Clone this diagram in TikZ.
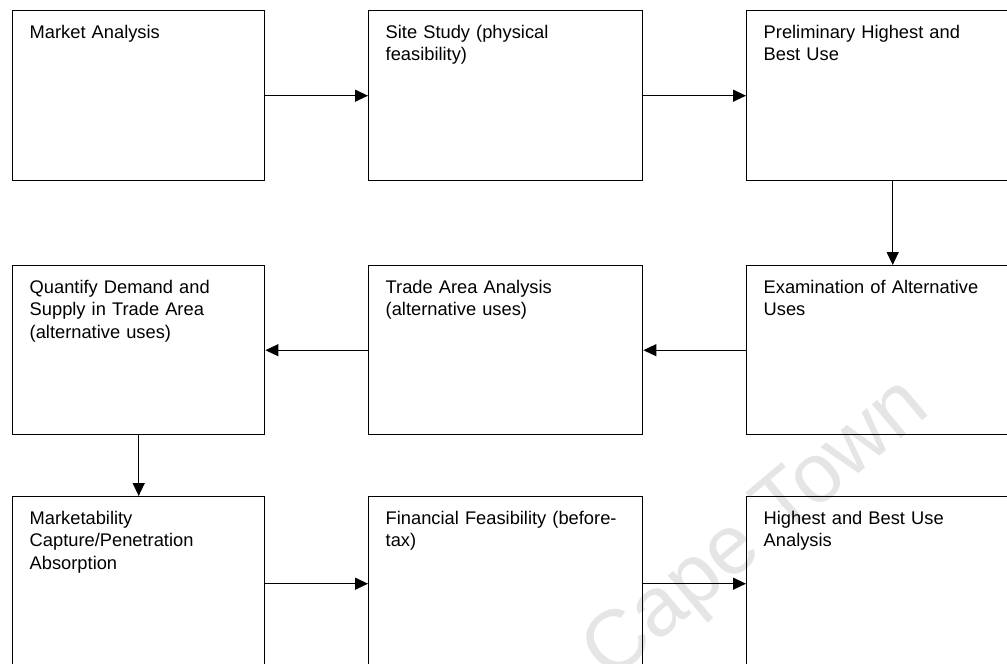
\documentclass[tikz,border=0pt]{standalone}
\usepackage{fontspec}
\setmainfont{Liberation Sans}
\usetikzlibrary{arrows.meta}
\begin{document}
\begin{tikzpicture}[x=1pt,y=-1pt,
  stepbox/.style={draw=black, line width=1.4pt, inner sep=0pt, anchor=north west},
  steptext/.style={anchor=north west, inner sep=0pt, align=left, text width=250pt,
    font=\fontsize{18.3}{22.5}\selectfont, xshift=17.5pt, yshift=-15pt},
  flow/.style={line width=1.3pt, -{Triangle[length=13pt,width=12pt]}},
  wmark/.style={text=black!10, font=\fontsize{84}{84}\selectfont, inner sep=0pt}]
\useasboundingbox (0,0) rectangle (1007,664);
\clip (0,0) rectangle (1007,664);

% faint watermark behind the chart
\node[wmark, rotate=40] (wm) at (758,532) {Cape Town};

% row 1
\node[stepbox, minimum width=252pt, minimum height=170pt] (b1) at (12,10) {};
\node[stepbox, minimum width=274pt, minimum height=170pt] (b2) at (368,10) {};
\node[stepbox, minimum width=292pt, minimum height=170pt] (b3) at (746,10) {};
% row 2
\node[stepbox, minimum width=252pt, minimum height=169pt] (b4) at (12,265) {};
\node[stepbox, minimum width=274pt, minimum height=169pt] (b5) at (368,265) {};
\node[stepbox, minimum width=292pt, minimum height=169pt] (b6) at (746,265) {};
% row 3
\node[stepbox, minimum width=252pt, minimum height=174pt] (b7) at (12,496) {};
\node[stepbox, minimum width=274pt, minimum height=174pt] (b8) at (368,496) {};
\node[stepbox, minimum width=292pt, minimum height=174pt] (b9) at (746,496) {};

% box captions
\node[steptext] (t1) at (b1.north west) {Market Analysis};
\node[steptext] (t2) at (b2.north west) {Site Study (physical\\feasibility)};
\node[steptext] (t3) at (b3.north west) {Preliminary Highest and\\Best Use};
\node[steptext] (t4) at (b4.north west) {Quantify Demand and\\Supply in Trade Area\\(alternative uses)};
\node[steptext] (t5) at (b5.north west) {Trade Area Analysis\\(alternative uses)};
\node[steptext] (t6) at (b6.north west) {Examination of Alternative\\Uses};
\node[steptext] (t7) at (b7.north west) {Marketability\\Capture/Penetration\\Absorption};
\node[steptext] (t8) at (b8.north west) {Financial Feasibility (before-\\tax)};
\node[steptext] (t9) at (b9.north west) {Highest and Best Use\\Analysis};

% flow between steps
\draw[flow] (b1.east) -- (b2.west);
\draw[flow] (b2.east) -- (b3.west);
\draw[flow] (b3.south) -- (b6.north);
\draw[flow] (b6.west) -- (b5.east);
\draw[flow] (b5.west) -- (b4.east);
\draw[flow] (b4.south) -- (b7.north);
\draw[flow] (b7.east) -- (b8.west);
\draw[flow] (b8.east) -- (b9.west);
\end{tikzpicture}
\end{document}
